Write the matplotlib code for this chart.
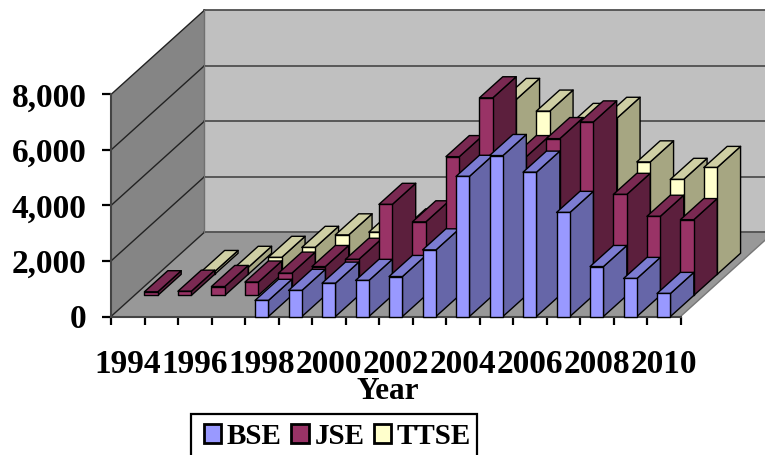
import numpy as np
import matplotlib
matplotlib.use("Agg")
import matplotlib.pyplot as plt
from matplotlib.patches import Patch, Rectangle

years = list(range(1994, 2011))
bse = [np.nan, np.nan, np.nan, np.nan, 580, 940, 1200, 1300, 1440, 2400, 5050, 5800, 5200, 3750, 1800, 1370, 830]
jse = [130, 150, 320, 480, 800, 1040, 1300, 3280, 2650, 5000, 7120, 5000, 5650, 6250, 3640, 2850, 2730]
ttse = [np.nan, 100, 250, 610, 970, 1420, 1520, 1600, 1800, 2500, 6300, 5880, 5400, 5620, 4050, 3420, 3850]
series_names = ["BSE", "JSE", "TTSE"]
yticks = [0, 2000, 4000, 6000, 8000]
ytick_labels = ["0", "2,000", "4,000", "6,000", "8,000"]

front = ["#9999ff", "#993366", "#ffffcc"]
top = ["#7c7cd2", "#7a2952", "#cfcfa4"]
side = ["#6666a8", "#5c1f3d", "#a6a682"]

W, H = 765, 455
FONT = "Liberation Serif"
fig = plt.figure(figsize=(W / 100, H / 100), dpi=100, facecolor="white")
ax = fig.add_axes([111 / W, 1 - 316.5 / H, 569.5 / W, 222 / H])
ax.set_xlim(0, 17)
ax.set_ylim(0, 8000)
ax.patch.set_visible(False)

# oblique depth: one row shifts by this much in data units
DX = 0.6977
DY = 760
ROWS = 4
BW = 0.4
XOFF = 0.3
depth_x, depth_y = ROWS * DX, ROWS * DY


def poly(xs, ys, fc, ec="none", lw=0, z=1):
    ax.fill(xs, ys, facecolor=fc, edgecolor=ec, linewidth=lw, clip_on=False, zorder=z, joinstyle="round")


# walls and floor
poly([0, depth_x, depth_x, 0], [0, depth_y, 8000 + depth_y, 8000], "#858585", z=1)
poly([depth_x, 17 + depth_x, 17 + depth_x, depth_x], [depth_y, depth_y, 8000 + depth_y, 8000 + depth_y], "#c0c0c0", z=1)
poly([0, 17, 17 + depth_x, depth_x], [0, 0, depth_y, depth_y], "#989898", z=1)
for v in yticks:
    ax.plot([depth_x, 17 + depth_x], [v + depth_y] * 2, color="#505050", lw=1.3, clip_on=False, zorder=2)
    ax.plot([0, depth_x], [v, v + depth_y], color="#222222", lw=1.0, clip_on=False, zorder=2)
ax.plot([depth_x, depth_x], [depth_y, 8000 + depth_y], color="#707070", lw=1.0, clip_on=False, zorder=2)
ax.plot([17, 17 + depth_x], [0, depth_y], color="#777777", lw=1.0, clip_on=False, zorder=2)

# bars: back row first, left to right inside a row
z = 3.0
for row, vals in reversed(list(enumerate([bse, jse, ttse]))):
    for i, v in enumerate(vals):
        if np.isnan(v):
            continue
        x0 = i + XOFF + row * DX
        x1 = x0 + BW
        y0 = row * DY
        y1 = y0 + v
        dx, dy = DX, DY
        z += 0.01
        poly([x1, x1 + dx, x1 + dx, x1], [y0, y0 + dy, y1 + dy, y1], side[row], "black", 1.0, z)
        poly([x0, x1, x1 + dx, x0 + dx], [y1, y1, y1 + dy, y1 + dy], top[row], "black", 1.0, z)
        poly([x0, x1, x1, x0], [y0, y0, y1, y1], front[row], "black", 1.0, z)

# axes furniture
for s in ["top", "right"]:
    ax.spines[s].set_visible(False)
for s in ["left", "bottom"]:
    ax.spines[s].set_color("#444444")
    ax.spines[s].set_linewidth(1.5)
    ax.spines[s].set_zorder(2.5)

ax.set_yticks(yticks)
ax.set_yticklabels(ytick_labels, fontfamily=FONT, fontweight="bold", fontsize=24)
ax.tick_params(axis="y", length=6.5, width=1.6, pad=11, color="black")
ax.set_xticks(range(0, 18))
ax.set_xticklabels([])
ax.tick_params(axis="x", which="major", length=6, width=1.6, color="black")
ax.set_xticks([i + 0.5 for i in range(0, 17, 2)], minor=True)
ax.set_xticklabels([str(y) for y in years[::2]], minor=True, fontfamily=FONT, fontweight="bold", fontsize=24)
ax.tick_params(axis="x", which="minor", length=0, pad=23.5)

ax.set_xlabel("Year", fontfamily=FONT, fontweight="bold", fontsize=22.5)
ax.xaxis.set_label_coords((388 - 111) / 569.5, -(377 - 316.5) / 222)

fig.add_artist(Rectangle((190.5 / W, -0.02), 286 / W, 1.02 - 413.5 / H, transform=fig.transFigure,
                         facecolor="white", edgecolor="black", linewidth=1.6, zorder=5))
handles = [Patch(facecolor=c, edgecolor="black", linewidth=2) for c in front]
leg = fig.legend(handles, series_names, loc="upper left",
                 bbox_to_anchor=(203.5 / W, 1 - 423 / H), ncol=3,
                 prop={"family": FONT, "weight": "bold", "size": 21},
                 handlelength=0.6, handleheight=0.62, handletextpad=0.2,
                 columnspacing=0.32, borderpad=0, borderaxespad=0, frameon=False)
leg.set_zorder(6)

fig.savefig("out.png", dpi=100, facecolor="white")
